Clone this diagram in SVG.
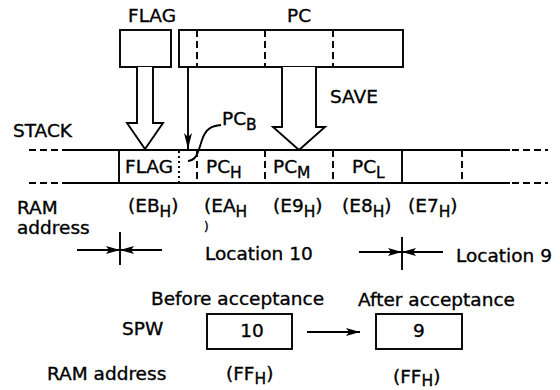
<svg xmlns="http://www.w3.org/2000/svg" width="560" height="390" viewBox="0 0 560 390">
<style>
text{font-family:"DejaVu Sans","Liberation Sans",sans-serif;font-size:18.5px;fill:#000;stroke:#000;stroke-width:0.35}
.sub{font-size:15.5px}
.ln{stroke:#000;stroke-width:1.9;fill:none}
.dash{stroke:#000;stroke-width:1.9;fill:none;stroke-dasharray:7,4}
.dot{stroke:#000;stroke-width:1.9;fill:none;stroke-dasharray:2,3}
.box{stroke:#000;stroke-width:1.9;fill:#fff}
.hollow{stroke:#000;stroke-width:1.9;fill:#fff;stroke-linejoin:miter}
</style>
<defs>
<marker id="ah" viewBox="0 0 14 8" refX="14" refY="4" markerWidth="14" markerHeight="8" markerUnits="userSpaceOnUse" orient="auto">
<path d="M0,0 L14,4 L0,8 L3,4 Z" fill="#000"/>
</marker>
<marker id="ahn" viewBox="0 0 16 8" refX="16" refY="4" markerWidth="16" markerHeight="8" markerUnits="userSpaceOnUse" orient="auto">
<path d="M0,0 L16,4 L0,8 L4,4 Z" fill="#000"/>
</marker>
</defs>
<g id="flag-reg">
<text x="128" y="22">FLAG</text>
<rect class="box" x="120" y="30" width="51" height="37"/>
</g>
<g id="pc-reg">
<text x="287" y="22">PC</text>
<rect class="box" x="179" y="30" width="224" height="37"/>
<line class="dash" x1="197" y1="30" x2="197" y2="67"/>
<line class="dash" x1="265" y1="30" x2="265" y2="67"/>
<line class="dash" x1="333" y1="30" x2="333" y2="67"/>
</g>
<g id="stack">
<text x="13" y="137">STACK</text>
<line class="dash" x1="29" y1="150" x2="65" y2="150"/>
<line class="dash" x1="29" y1="183" x2="65" y2="183"/>
<line class="ln" x1="65" y1="150" x2="510" y2="150"/>
<line class="ln" x1="65" y1="183" x2="510" y2="183"/>
<line class="dash" x1="512" y1="150" x2="548" y2="150"/>
<line class="dash" x1="512" y1="183" x2="548" y2="183"/>
<line class="ln" x1="119" y1="150" x2="119" y2="183"/>
<line class="dot" x1="179" y1="151" x2="179" y2="183"/>
<line class="dash" x1="197" y1="150" x2="197" y2="183"/>
<line class="dash" x1="265" y1="150" x2="265" y2="183"/>
<line class="dash" x1="333" y1="150" x2="333" y2="183"/>
<line class="ln" x1="402" y1="150" x2="402" y2="183"/>
<line class="dash" x1="462" y1="150" x2="462" y2="183"/>
<text x="125" y="173">FLAG</text>
<text x="206" y="173">PC<tspan class="sub" dy="5">H</tspan></text>
<text x="273" y="173">PC<tspan class="sub" dy="5">M</tspan></text>
<text x="352" y="173">PC<tspan class="sub" dy="5">L</tspan></text>
</g>
<g id="ram-address">
<text x="17" y="214">RAM</text>
<text x="17" y="234">address</text>
<text x="128" y="212">(EB<tspan class="sub" dy="5">H</tspan><tspan dy="-5">)</tspan></text>
<text x="204" y="212">(EA<tspan class="sub" dy="5">H</tspan></text>
<text x="204" y="231" style="font-size:12px">)</text>
<text x="273" y="212">(E9<tspan class="sub" dy="5">H</tspan><tspan dy="-5">)</tspan></text>
<text x="342" y="212">(E8<tspan class="sub" dy="5">H</tspan><tspan dy="-5">)</tspan></text>
<text x="408" y="212">(E7<tspan class="sub" dy="5">H</tspan><tspan dy="-5">)</tspan></text>
</g>
<g id="labels">
<text x="330" y="103">SAVE</text>
<text x="222" y="125">PC<tspan class="sub" dy="5">B</tspan></text>
<text x="205" y="260">Location 10</text>
<text x="456" y="262">Location 9</text>
</g>
<g id="connectors">
<polyline class="hollow" points="137,67 137,123 127,123 145,149 163,123 153,123 153,67"/>
<polyline class="hollow" points="282,67 282,127 273,127 299,150 325,127 316,127 316,67"/>
<line class="ln" x1="188" y1="67" x2="188" y2="149" marker-end="url(#ahn)"/>
<path class="ln" d="M188,161 C197,160 198,152 202,140 C206,128 212,126 221,125" stroke-width="1.5"/>
<line class="ln" x1="120" y1="232" x2="120" y2="265"/>
<line class="ln" x1="77" y1="250" x2="120" y2="250" marker-end="url(#ah)"/>
<line class="ln" x1="162" y1="250" x2="120" y2="250" marker-end="url(#ah)"/>
<line class="ln" x1="402" y1="237" x2="402" y2="270"/>
<line class="ln" x1="359" y1="252" x2="402" y2="252" marker-end="url(#ah)"/>
<line class="ln" x1="443" y1="252" x2="402" y2="252" marker-end="url(#ah)"/>
<line class="ln" x1="307" y1="332" x2="360" y2="332" marker-end="url(#ah)"/>
</g>
<g id="spw">
<text x="151" y="305">Before acceptance</text>
<text x="358" y="306">After acceptance</text>
<text x="122" y="335">SPW</text>
<rect class="box" x="207" y="314" width="85" height="35"/>
<text x="252" y="337" text-anchor="middle">10</text>
<rect class="box" x="376" y="314" width="86" height="35"/>
<text x="419" y="337" text-anchor="middle">9</text>
<text x="47" y="380">RAM address</text>
<text x="226" y="380">(FF<tspan class="sub" dy="4">H</tspan><tspan dy="-4">)</tspan></text>
<text x="393" y="383">(FF<tspan class="sub" dy="3">H</tspan><tspan dy="-3">)</tspan></text>
</g>
</svg>
